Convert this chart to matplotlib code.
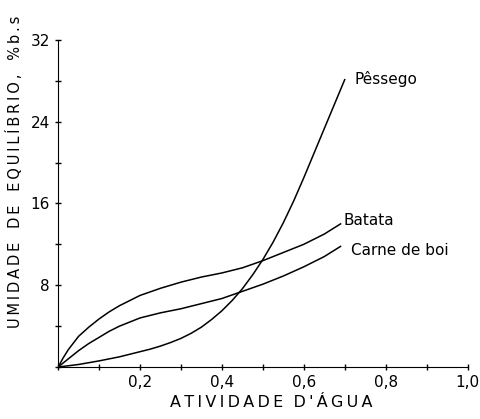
import matplotlib.pyplot as plt
from matplotlib.ticker import MultipleLocator, FuncFormatter

# Atividade de agua (eixo x) e umidade de equilibrio (% b.s.)
aw_p = [0, 0.05, 0.1, 0.125, 0.15, 0.175, 0.2, 0.225, 0.25, 0.275, 0.3, 0.325, 0.35,
        0.375, 0.4, 0.425, 0.45, 0.475, 0.5, 0.525, 0.55, 0.575, 0.6, 0.625, 0.65,
        0.675, 0.7]
pessego = [0, 0.25, 0.6, 0.8, 1.0, 1.25, 1.5, 1.75, 2.05, 2.4, 2.8, 3.3, 3.9,
           4.65, 5.5, 6.5, 7.65, 9.0, 10.5, 12.2, 14.1, 16.2, 18.5, 20.9, 23.3,
           25.7, 28.1]

aw_b = [0, 0.0125, 0.025, 0.05, 0.075, 0.1, 0.125, 0.15, 0.175, 0.2, 0.25, 0.3,
        0.35, 0.4, 0.45, 0.5, 0.55, 0.6, 0.65, 0.69]
batata = [0, 0.9, 1.7, 3.0, 3.9, 4.7, 5.4, 6.0, 6.5, 7.0, 7.7, 8.3,
          8.8, 9.2, 9.7, 10.4, 11.2, 12.0, 13.0, 14.0]
carne = [0, 0.4, 0.8, 1.6, 2.3, 2.9, 3.5, 4.0, 4.4, 4.8, 5.3, 5.7,
         6.2, 6.7, 7.4, 8.1, 8.9, 9.8, 10.8, 11.8]

rotulos = ['Pêssego', 'Batata', 'Carne de boi']

ts = '\u2009'  # espaco fino entre as letras dos titulos dos eixos
xlab = ts.join("ATIVIDADE") + '  ' + ts.join("D'ÁGUA")
ylab = '   '.join(ts.join(w) for w in ['UMIDADE', 'DE', 'EQUILÍBRIO,', '%b.s'])

fig = plt.figure(figsize=(4.8, 4.19), dpi=100)
ax = fig.add_axes([0.121, 0.124, 0.853, 0.781])

ax.plot(aw_p, pessego, color='black', lw=1.1)
ax.plot(aw_b, batata, color='black', lw=1.1)
ax.plot(aw_b, carne, color='black', lw=1.1)

ax.text(0.724, 28.2, rotulos[0], fontsize=11, va='center', ha='left')
ax.text(0.697, 14.3, rotulos[1], fontsize=11, va='center', ha='left')
ax.text(0.715, 11.4, rotulos[2], fontsize=11, va='center', ha='left')

ax.set_xlim(0, 1.0)
ax.set_ylim(0, 32)
ax.spines['top'].set_visible(False)
ax.spines['right'].set_visible(False)

ax.xaxis.set_major_locator(MultipleLocator(0.2))
ax.xaxis.set_minor_locator(MultipleLocator(0.1))
ax.yaxis.set_major_locator(MultipleLocator(8))
ax.yaxis.set_minor_locator(MultipleLocator(4))
ax.xaxis.set_major_formatter(FuncFormatter(lambda v, p: '' if v == 0 else f'{v:.1f}'.replace('.', ',')))
ax.yaxis.set_major_formatter(FuncFormatter(lambda v, p: '' if v == 0 else f'{v:.0f}'))
ax.tick_params(which='both', direction='inout', length=5, width=1, labelsize=11)

ax.set_xlabel(xlab, fontsize=11.5, labelpad=1)
ax.set_ylabel(ylab, fontsize=10.5)
ax.xaxis.set_label_coords(0.52, -0.085)
ax.yaxis.set_label_coords(-0.085, 0.596)

fig.savefig('out.png', dpi=100)
